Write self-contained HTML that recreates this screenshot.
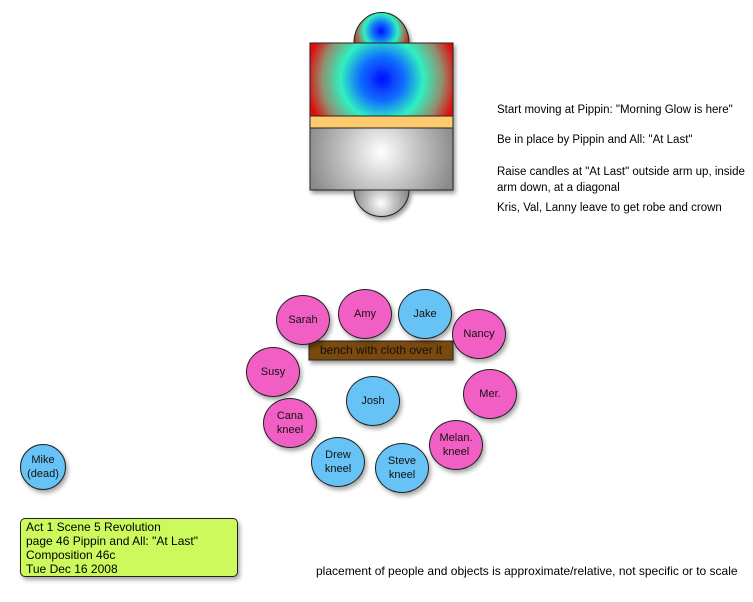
<!DOCTYPE html>
<html><head><style>
body{margin:0;width:753px;height:602px;background:#fff;position:relative;overflow:hidden;font-family:"Liberation Sans",sans-serif;}
.c{position:absolute;border:1px solid #222;border-radius:50%;box-sizing:border-box;display:flex;align-items:center;justify-content:center;text-align:center;font-size:11px;line-height:14px;color:#111;box-shadow:2px 3px 4px rgba(0,0,0,.35);}
.p{background:#f25fc4;}
.b{background:#67c3f5;}
.t{position:absolute;font-size:11.5px;color:#000;white-space:nowrap;}
</style></head><body>
<svg width="753" height="602" style="position:absolute;left:0;top:0">
<defs>
<radialGradient id="g1" gradientUnits="userSpaceOnUse" cx="382" cy="79" r="75">
<stop offset="0" stop-color="#0010ff"/><stop offset="0.3" stop-color="#1070ff"/><stop offset="0.55" stop-color="#30f0c0"/><stop offset="0.8" stop-color="#909070"/><stop offset="1" stop-color="#e01010"/></radialGradient>
<radialGradient id="g2" gradientUnits="userSpaceOnUse" cx="381" cy="31" r="28">
<stop offset="0" stop-color="#0010ff"/><stop offset="0.3" stop-color="#1070ff"/><stop offset="0.6" stop-color="#30f0c0"/><stop offset="1" stop-color="#d03020"/></radialGradient>
<radialGradient id="g3" gradientUnits="userSpaceOnUse" cx="381" cy="152" r="75">
<stop offset="0" stop-color="#ffffff"/><stop offset="0.45" stop-color="#c8c8c8"/><stop offset="1" stop-color="#8a8a8a"/></radialGradient>
<radialGradient id="g4" gradientUnits="userSpaceOnUse" cx="381" cy="203" r="28">
<stop offset="0" stop-color="#ffffff"/><stop offset="0.5" stop-color="#c0c0c0"/><stop offset="1" stop-color="#8a8a8a"/></radialGradient>
<filter id="sh"><feDropShadow dx="2" dy="3" stdDeviation="2" flood-opacity="0.4"/></filter>
</defs>
<g filter="url(#sh)">
<path d="M354,43 A27,30 0 0 1 409,43 Z" fill="url(#g2)" stroke="#222"/>
<path d="M354,190 A27,26 0 0 0 409,190 Z" fill="url(#g4)" stroke="#222"/>
<rect x="310" y="43" width="143" height="73" fill="url(#g1)" stroke="#222"/>
<rect x="310" y="116" width="143" height="12" fill="#fdcb6e" stroke="#222"/>
<rect x="310" y="128" width="143" height="62" fill="url(#g3)" stroke="#222"/>
<rect x="309" y="341" width="144" height="19" fill="#7a4a10" stroke="#222"/>
</g>
</svg>
<div class="t" style="left:497px;top:104px">Start moving at Pippin: "Morning Glow is here"</div>
<div class="t" style="left:497px;top:134px">Be in place by Pippin and All: "At Last"</div>
<div class="t" style="left:497px;top:164px;line-height:16px">Raise candles at "At Last" outside arm up, inside<br>arm down, at a diagonal</div>
<div class="t" style="left:497px;top:202px">Kris, Val, Lanny leave to get robe and crown</div>
<div class="t" style="left:309px;top:343px;width:144px;text-align:center;font-size:12px;color:#111">bench with cloth over it</div>
<div class="c p" style="left:276px;top:295px;width:54px;height:50px">Sarah</div>
<div class="c p" style="left:338px;top:289px;width:54px;height:50px">Amy</div>
<div class="c b" style="left:398px;top:289px;width:54px;height:50px">Jake</div>
<div class="c p" style="left:452px;top:309px;width:54px;height:50px">Nancy</div>
<div class="c p" style="left:246px;top:347px;width:54px;height:50px">Susy</div>
<div class="c p" style="left:463px;top:369px;width:54px;height:50px">Mer.</div>
<div class="c b" style="left:346px;top:376px;width:54px;height:50px">Josh</div>
<div class="c p" style="left:263px;top:398px;width:54px;height:50px">Cana<br>kneel</div>
<div class="c p" style="left:429px;top:420px;width:54px;height:50px">Melan.<br>kneel</div>
<div class="c b" style="left:311px;top:437px;width:54px;height:50px">Drew<br>kneel</div>
<div class="c b" style="left:375px;top:443px;width:54px;height:50px">Steve<br>kneel</div>
<div class="c b" style="left:20px;top:444px;width:46px;height:46px">Mike<br>(dead)</div>
<div style="position:absolute;left:20px;top:518px;width:218px;height:59px;box-sizing:border-box;background:#ccfa5c;border:1px solid #222;border-radius:5px;box-shadow:2px 3px 4px rgba(0,0,0,.35);padding:1px 0 0 5px;font-size:12px;line-height:14px">Act 1 Scene 5 Revolution<br>page 46 Pippin and All: "At Last"<br>Composition 46c<br>Tue Dec 16 2008</div>
<div class="t" style="left:316px;top:564px;font-size:12px">placement of people and objects is approximate/relative, not specific or to scale</div>
</body></html>
